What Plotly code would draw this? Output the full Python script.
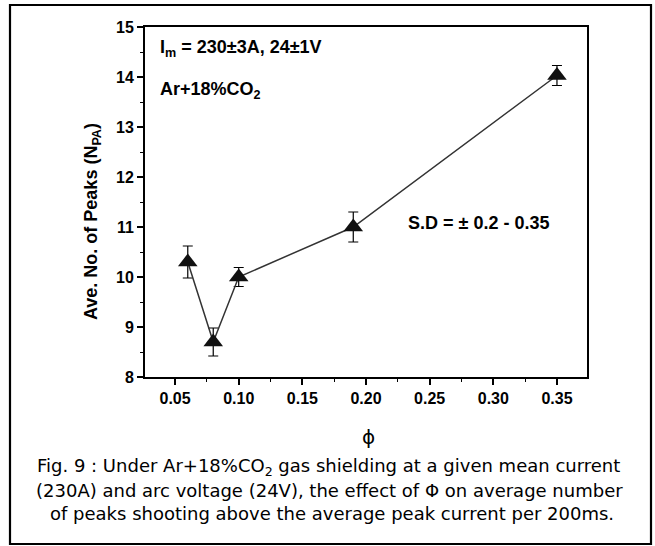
import plotly.graph_objects as go

# Flow parameter phi and the average number of peaks above mean peak current
phi = [0.06, 0.08, 0.10, 0.19, 0.35]
n_pa = [10.3, 8.7, 10.0, 11.0, 14.03]
sd = [0.32, 0.28, 0.19, 0.30, 0.20]

x_ticks = [0.05, 0.10, 0.15, 0.20, 0.25, 0.30, 0.35]
x_tick_text = ["0.05", "0.10", "0.15", "0.20", "0.25", "0.30", "0.35"]
y_ticks = [8, 9, 10, 11, 12, 13, 14, 15]

W, H = 655, 546
L, R, T, B = 145, 68, 27, 169
PW, PH = W - L - R, H - T - B


def px(x):
    return (x - L) / PW


def py(y):
    return (H - B - y) / PH


bold = dict(family="Liberation Sans, Arial", size=16, color="black", weight="bold")
cap_font = dict(family="DejaVu Sans", size=18, color="black")

fig = go.Figure()
fig.add_trace(go.Scatter(
    x=phi, y=n_pa, mode="lines+markers",
    line=dict(color="#333333", width=1.5),
    marker=dict(symbol="triangle-up", size=17, color="#111111"),
    error_y=dict(type="data", array=sd, visible=True, color="black",
                 thickness=1.2, width=5),
    showlegend=False,
))

axis_common = dict(
    showline=True, linecolor="black", linewidth=1.8, mirror=True,
    ticks="outside", ticklen=6, tickwidth=1.5, tickcolor="black",
    showgrid=False, zeroline=False, tickfont=bold,
)

fig.update_xaxes(
    range=[0.0264, 0.3736], tickvals=x_ticks, ticktext=x_tick_text,
    minor=dict(ticks="outside", ticklen=3, tickwidth=1.2, tickcolor="black", dtick=0.025),
    **axis_common,
)
fig.update_yaxes(
    range=[8, 15], tickvals=y_ticks,
    minor=dict(ticks="outside", ticklen=3, tickwidth=1.2, tickcolor="black", dtick=0.5),
    **axis_common,
)

ann_font = dict(family="Liberation Sans, Arial", size=18, color="black", weight="bold")
annotations = [
    dict(text="I<sub>m</sub> = 230±3A, 24±1V", x=px(158), y=py(48),
         xanchor="left", yanchor="middle", font=ann_font),
    dict(text="Ar+18%CO<sub>2</sub>", x=px(158), y=py(90),
         xanchor="left", yanchor="middle", font=ann_font),
    dict(text="S.D = ± 0.2 - 0.35", x=px(406), y=py(223),
         xanchor="left", yanchor="middle", font=ann_font),
    dict(text="Ave. No. of Peaks (N<sub>PA</sub>)", x=px(92), y=py(222),
         textangle=-90, xanchor="center", yanchor="middle", font=ann_font),
    dict(text="ϕ", x=px(368), y=py(437), xanchor="center", yanchor="middle",
         font=dict(family="DejaVu Sans", size=20, color="black")),
    dict(text="Fig. 9 : Under Ar+18%CO<sub>2</sub> gas shielding at a given mean current",
         x=px(328), y=py(467), xanchor="center", yanchor="middle", font=cap_font),
    dict(text="(230A) and arc voltage (24V), the effect of Φ on average number",
         x=px(329), y=py(490), xanchor="center", yanchor="middle", font=cap_font),
    dict(text="of peaks shooting above the average peak current per 200ms.",
         x=px(332), y=py(513), xanchor="center", yanchor="middle", font=cap_font),
]
for a in annotations:
    a.update(xref="paper", yref="paper", showarrow=False)

fig.update_layout(
    width=W, height=H,
    margin=dict(l=L, r=R, t=T, b=B),
    paper_bgcolor="white", plot_bgcolor="white",
    annotations=annotations,
    shapes=[dict(type="rect", xref="paper", yref="paper",
                 x0=px(10), x1=px(651), y0=py(544), y1=py(5),
                 line=dict(color="black", width=2.2), layer="above")],
)

fig.write_html("out.html")
